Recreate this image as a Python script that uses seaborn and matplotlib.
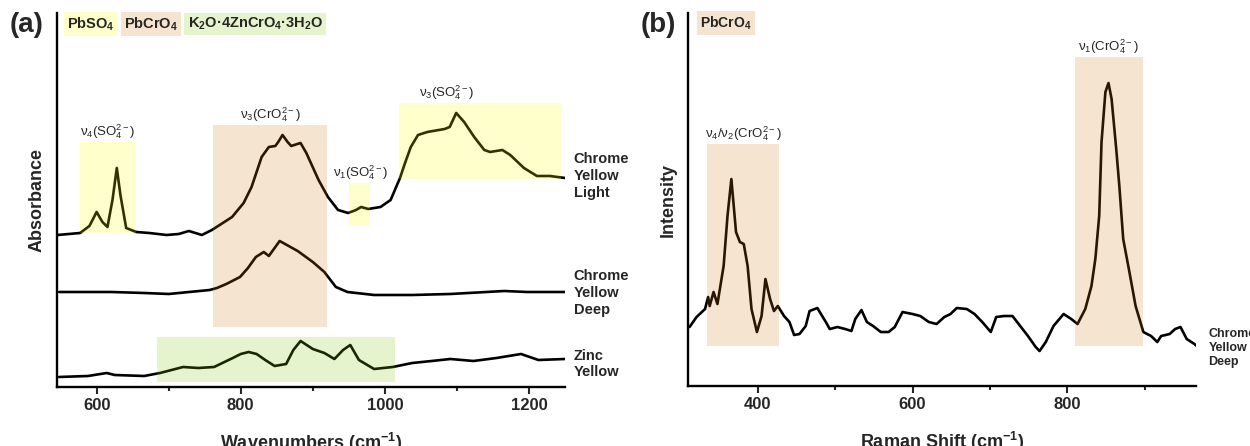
import numpy as np
import matplotlib
matplotlib.use("Agg")
import matplotlib.pyplot as plt
import seaborn as sns

# ---- FTIR (panel a) ----
cyl_wn = [546, 577, 590, 600, 608, 615, 622, 628, 633, 641, 655, 673, 697, 714, 728, 746,
          760, 788, 804, 815, 829, 839, 848, 852, 858, 865, 870, 883, 891, 908, 921, 935,
          949, 960, 967, 977, 994, 1008, 1021, 1028, 1036, 1046, 1059, 1083, 1090, 1099,
          1110, 1124, 1138, 1146, 1163, 1174, 1193, 1211, 1229, 1250]
cyl_abs = [1.52, 1.54, 1.61, 1.75, 1.65, 1.60, 1.87, 2.19, 1.92, 1.59, 1.55, 1.54, 1.52, 1.53,
           1.56, 1.52, 1.57, 1.70, 1.84, 2.00, 2.30, 2.40, 2.41, 2.45, 2.52, 2.45, 2.41, 2.44,
           2.34, 2.07, 1.90, 1.77, 1.74, 1.77, 1.80, 1.78, 1.80, 1.87, 2.09, 2.24, 2.40, 2.52,
           2.55, 2.58, 2.60, 2.74, 2.65, 2.50, 2.37, 2.35, 2.37, 2.32, 2.19, 2.11, 2.11, 2.09]

cyd_wn = [548, 620, 666, 700, 757, 767, 780, 799, 810, 821, 832, 839, 854, 879, 900, 916,
          932, 948, 985, 1038, 1091, 1166, 1197, 1250]
cyd_abs = [0.95, 0.95, 0.94, 0.93, 0.97, 0.99, 1.03, 1.10, 1.19, 1.30, 1.35, 1.31, 1.46, 1.36,
           1.25, 1.15, 1.00, 0.95, 0.92, 0.92, 0.93, 0.96, 0.95, 0.95]

zy_wn = [548, 588, 614, 625, 666, 688, 720, 741, 763, 789, 800, 811, 822, 834, 847, 863, 873,
         883, 900, 916, 930, 942, 952, 964, 985, 1011, 1038, 1065, 1091, 1123, 1155, 1189,
         1213, 1250]
zy_abs = [0.10, 0.11, 0.14, 0.12, 0.11, 0.14, 0.20, 0.19, 0.20, 0.29, 0.33, 0.35, 0.33, 0.27,
          0.21, 0.23, 0.37, 0.46, 0.38, 0.34, 0.28, 0.37, 0.42, 0.27, 0.18, 0.20, 0.24, 0.26,
          0.28, 0.26, 0.29, 0.33, 0.27, 0.28]

# ---- Raman (panel b) ----
ram_shift = [312, 321, 332, 336, 338, 343, 348, 356, 361, 366, 372, 377, 382, 387, 392, 399,
             405, 410, 416, 421, 426, 434, 441, 447, 454, 462, 467, 477, 488, 493, 503, 513,
             521, 526, 534, 541, 549, 559, 569, 577, 587, 600, 610, 621, 631, 641, 649, 657,
             670, 680, 690, 701, 708, 718, 729, 739, 749, 759, 764, 772, 782, 795, 805, 813,
             823, 831, 836, 841, 844, 849, 853, 857, 863, 867, 872, 880, 888, 898, 908, 916,
             921, 932, 939, 946, 954, 964, 967]
ram_int = [0.59, 0.69, 0.77, 0.89, 0.80, 0.94, 0.82, 1.20, 1.70, 2.07, 1.54, 1.44, 1.42, 1.20,
           0.77, 0.54, 0.70, 1.07, 0.87, 0.75, 0.80, 0.70, 0.64, 0.51, 0.52, 0.60, 0.75, 0.78,
           0.64, 0.57, 0.59, 0.57, 0.55, 0.67, 0.76, 0.64, 0.60, 0.54, 0.54, 0.59, 0.74, 0.72,
           0.70, 0.64, 0.62, 0.69, 0.72, 0.78, 0.77, 0.72, 0.64, 0.54, 0.69, 0.70, 0.70, 0.60,
           0.50, 0.39, 0.35, 0.44, 0.60, 0.72, 0.67, 0.62, 0.77, 1.00, 1.27, 1.70, 2.44, 2.94,
           3.03, 2.87, 2.37, 2.00, 1.47, 1.14, 0.80, 0.54, 0.50, 0.44, 0.50, 0.52, 0.57, 0.59,
           0.47, 0.42, 0.40]

# band regions: (x0, x1, y0, y1, phase)
ftir_bands = [(577, 654, 1.54, 2.45, "PbSO4"), (761, 920, 0.60, 2.62, "PbCrO4"),
              (950, 979, 1.61, 2.04, "PbSO4"), (1019, 1245, 2.08, 2.84, "PbSO4"),
              (684, 1014, 0.05, 0.50, "Zn")]
ftir_band_labels = [(615, 2.55, r"$\nu_4(SO_4^{2-})$"), (841, 2.72, r"$\nu_3(CrO_4^{2-})$"),
                    (966, 2.14, r"$\nu_1(SO_4^{2-})$"), (1086, 2.94, r"$\nu_3(SO_4^{2-})$")]
raman_bands = [(334, 427, 0.40, 2.42, "PbCrO4"), (810, 898, 0.40, 3.29, "PbCrO4")]
raman_band_labels = [(381, 2.52, r"$\nu_4/\nu_2(CrO_4^{2-})$"), (853, 3.39, r"$\nu_1(CrO_4^{2-})$")]

phase_keys = [("PbSO4", r"$\mathbf{PbSO_4}$"), ("PbCrO4", r"$\mathbf{PbCrO_4}$"),
              ("Zn", r"$\mathbf{K_2O·4ZnCrO_4·3H_2O}$")]
phase_colors = {"PbSO4": (1.0, 1.0, 0.0), "PbCrO4": (0.82, 0.47, 0.08), "Zn": (0.51, 0.80, 0.02)}
phase_alpha = 0.2

sns.set_theme(style="white")
plt.rcParams["font.family"] = ["Liberation Sans", "DejaVu Sans"]
plt.rcParams["mathtext.fontset"] = "custom"
plt.rcParams["mathtext.rm"] = "Liberation Sans"
plt.rcParams["mathtext.it"] = "Liberation Sans"
plt.rcParams["mathtext.bf"] = "Liberation Sans:bold"
plt.rcParams["mathtext.default"] = "rm"

fig = plt.figure(figsize=(12.5, 4.46), dpi=100)
ax_a = fig.add_axes([0.0456, 0.1323, 0.4064, 0.8386])
ax_b = fig.add_axes([0.5504, 0.1345, 0.4064, 0.8363])


def style_axis(ax, xlim, ylim, major, minor, xlabel, ylabel):
    ax.set_xlim(*xlim)
    ax.set_ylim(*ylim)
    for s in ["top", "right"]:
        ax.spines[s].set_visible(False)
    for s in ["left", "bottom"]:
        ax.spines[s].set_linewidth(1.7)
        ax.spines[s].set_color("black")
    ax.set_xticks(major)
    ax.set_xticks(minor, minor=True)
    ax.set_yticks([])
    ax.tick_params(axis="x", which="major", length=5, width=1.5, direction="out",
                   labelsize=12, pad=3, bottom=True)
    ax.tick_params(axis="x", which="minor", length=3, width=1.5, direction="out", bottom=True)
    for lab in ax.get_xticklabels():
        lab.set_fontweight("bold")
    ax.set_xlabel(xlabel, fontsize=13, fontweight="bold", labelpad=13)
    ax.set_ylabel(ylabel, fontsize=13, fontweight="bold", labelpad=8)
    ax.grid(False)


def shade(ax, bands):
    for x0, x1, y0, y1, ph in bands:
        ax.fill_between([x0, x1], y0, y1, color=phase_colors[ph], alpha=phase_alpha,
                        lw=0, zorder=3)


def tags(ax, x_start, y, keys, size=10.5, gap_px=3):
    # chain of coloured key boxes, each placed right after the previous one
    renderer = fig.canvas.get_renderer()
    x = x_start
    for ph, s in keys:
        t = ax.text(x, y, s, fontsize=size, ha="left", va="center", zorder=4,
                    bbox=dict(boxstyle="square,pad=0.22", fc=phase_colors[ph],
                              alpha=phase_alpha, ec="none"))
        fig.canvas.draw()
        bb = t.get_bbox_patch().get_window_extent(renderer)
        tb = t.get_window_extent(renderer)
        pad = tb.x0 - bb.x0
        x = ax.transData.inverted().transform((bb.x1 + gap_px + pad, 0))[0]


# panel a
for wn, ab in [(cyl_wn, cyl_abs), (cyd_wn, cyd_abs), (zy_wn, zy_abs)]:
    sns.lineplot(x=wn, y=ab, ax=ax_a, color="black", lw=1.9, zorder=2)
shade(ax_a, ftir_bands)
for x, y, s in ftir_band_labels:
    ax_a.text(x, y, s, fontsize=9.5, ha="center", va="center")
style_axis(ax_a, (545, 1250), (0, 3.74), [600, 800, 1000, 1200], [700, 900, 1100],
           r"Wavenumbers (cm$^{\mathbf{-1}}$)", "Absorbance")
for y, s in [(2.11, "Chrome\nYellow\nLight"), (0.94, "Chrome\nYellow\nDeep"), (0.23, "Zinc\nYellow")]:
    ax_a.text(1262, y, s, fontsize=10.5, fontweight="bold", ha="left", va="center",
              linespacing=1.25, clip_on=False)

# panel b
sns.lineplot(x=ram_shift, y=ram_int, ax=ax_b, color="black", lw=1.9, zorder=2)
shade(ax_b, raman_bands)
for x, y, s in raman_band_labels:
    ax_b.text(x, y, s, fontsize=9.5, ha="center", va="center")
style_axis(ax_b, (310, 966), (0, 3.73), [400, 600, 800], [500, 700, 900],
           r"Raman Shift (cm$^{\mathbf{-1}}$)", "Intensity")
ax_b.text(982, 0.38, "Chrome\nYellow\nDeep", fontsize=9, fontweight="bold", ha="left",
          va="center", linespacing=1.25, clip_on=False)

fig.text(27 / 1250, 1 - 25 / 446, "(a)", fontsize=20, fontweight="bold", ha="center", va="center")
fig.text(658 / 1250, 1 - 25 / 446, "(b)", fontsize=20, fontweight="bold", ha="center", va="center")

tags(ax_a, 559, 3.63, phase_keys)
tags(ax_b, 326, 3.63, phase_keys[1:2], size=10)

fig.savefig("out.png", dpi=100)
